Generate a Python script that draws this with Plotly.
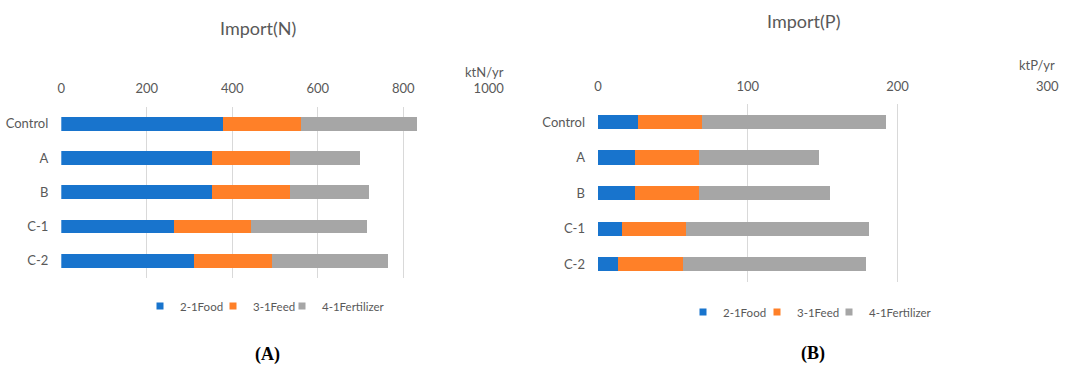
import plotly.graph_objects as go

# Scenario categories (top to bottom)
categories = ["Control", "A", "B", "C-1", "C-2"]
series_names = ["2-1Food", "3-1Feed", "4-1Fertilizer"]
series_colors = ["#1874CD", "#FF8028", "#A6A6A6"]

# Nitrogen import, ktN/yr
n_food = [379, 353, 353, 263, 311]
n_feed = [182, 181, 181, 180, 181]
n_fert = [272, 166, 186, 273, 273]

# Phosphorus import, ktP/yr
p_food = [26.7, 24.7, 24.7, 15.8, 13.6]
p_feed = [43.0, 42.5, 42.5, 42.8, 43.2]
p_fert = [122.7, 80.6, 88.0, 122.4, 122.4]

n_ticks = [0, 200, 400, 600, 800, 1000]
p_ticks = [0, 100, 200, 300]

W, H = 1080, 365
FONT = "Lato"
GREY_TXT = "#595959"


def px_x(p):
    return p / W


def px_y(p):
    return 1 - p / H


fig = go.Figure()

# each legend entry gets its own legend box so the keys can sit close together
panels = [
    ("x", "y", ["legend", "legend2", "legend3"], [140, 213, 282], 306,
     [n_food, n_feed, n_fert]),
    ("x2", "y2", ["legend4", "legend5", "legend6"], [683, 757, 829], 312,
     [p_food, p_feed, p_fert]),
]

legend_layout = {}
for xa, ya, lgs, lg_x, lg_y, series in panels:
    for name, color, vals in zip(series_names, series_colors, series):
        fig.add_trace(go.Bar(
            y=categories, x=vals, name=name, orientation="h",
            marker=dict(color=color, line=dict(width=0)),
            xaxis=xa, yaxis=ya, showlegend=False,
        ))
    for name, color, lg, lx in zip(series_names, series_colors, lgs, lg_x):
        fig.add_trace(go.Scatter(
            x=[None], y=[None], mode="markers", name=name,
            marker=dict(symbol="square", size=7, color=color),
            xaxis=xa, yaxis=ya, legend=lg, showlegend=True,
        ))
        legend_layout[lg] = dict(
            x=px_x(lx), y=px_y(lg_y), orientation="h",
            xanchor="left", yanchor="middle",
            font=dict(family=FONT, size=11.5, color=GREY_TXT),
            itemwidth=30, bgcolor="rgba(0,0,0,0)",
        )

x_common = dict(
    side="top", showgrid=True, gridcolor="#D9D9D9", gridwidth=1,
    zeroline=False, showline=False, ticks="",
    tickfont=dict(family=FONT, size=13, color=GREY_TXT),
    ticklabelstandoff=10, fixedrange=True, automargin=False,
)
y_common = dict(
    showgrid=False, zeroline=False, showline=False, ticks="",
    autorange="reversed", categoryorder="array", categoryarray=categories,
    tickfont=dict(family=FONT, size=13, color=GREY_TXT),
    ticklabelstandoff=12, fixedrange=True, automargin=False,
)

fig.update_layout(
    width=W, height=H, autosize=False,
    margin=dict(l=0, r=0, t=0, b=0, autoexpand=False),
    paper_bgcolor="white", plot_bgcolor="white",
    barmode="stack", bargap=0.6,
    showlegend=True,
    xaxis=dict(domain=[px_x(61.3), px_x(488.7)], range=[0, 1000],
               tickvals=n_ticks, anchor="y", **x_common),
    yaxis=dict(domain=[px_y(278), px_y(106.5)], anchor="x", **y_common),
    xaxis2=dict(domain=[px_x(598), px_x(1047.3)], range=[0, 300],
                tickvals=p_ticks, anchor="y2", **x_common),
    yaxis2=dict(domain=[px_y(282), px_y(104.2)], anchor="x2", **y_common),
    **legend_layout,
)

annotations = [
    dict(text="Import(N)", x=px_x(258), y=px_y(28),
         font=dict(family=FONT, size=18, color=GREY_TXT)),
    dict(text="Import(P)", x=px_x(803), y=px_y(21),
         font=dict(family=FONT, size=18, color=GREY_TXT)),
    dict(text="ktN/yr", x=px_x(484), y=px_y(72),
         font=dict(family=FONT, size=13, color=GREY_TXT)),
    dict(text="ktP/yr", x=px_x(1037), y=px_y(65),
         font=dict(family=FONT, size=13, color=GREY_TXT)),
    dict(text="<b>(A)</b>", x=px_x(267), y=px_y(354),
         font=dict(family="Liberation Serif", size=18, color="black")),
    dict(text="<b>(B)</b>", x=px_x(813), y=px_y(353),
         font=dict(family="Liberation Serif", size=18, color="black")),
]
for a in annotations:
    fig.add_annotation(xref="paper", yref="paper", showarrow=False,
                       xanchor="center", yanchor="middle", **a)

fig.write_html("out.html", config={"responsive": False})
